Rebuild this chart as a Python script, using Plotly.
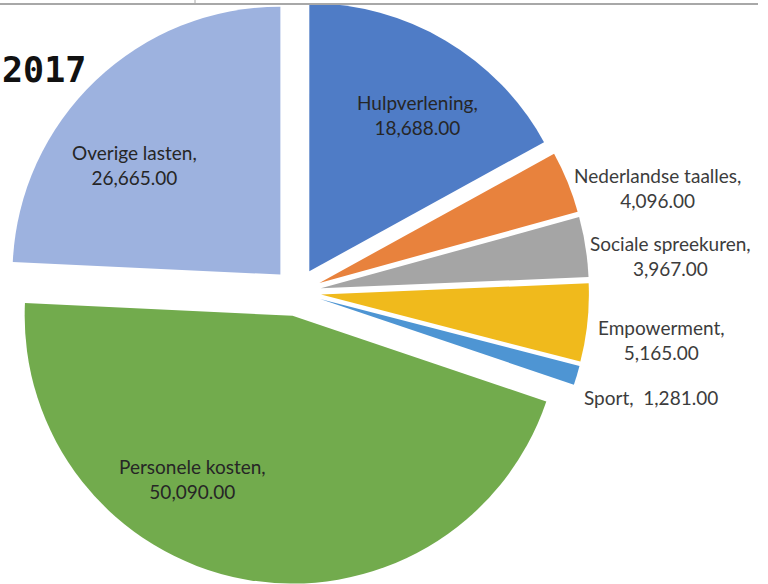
import plotly.graph_objects as go

# uitgaven 2017
labels = ["Hulpverlening", "Nederlandse taalles", "Sociale spreekuren",
          "Empowerment", "Sport", "Personele kosten", "Overige lasten"]
values = [18688.00, 4096.00, 3967.00, 5165.00, 1281.00, 50090.00, 26665.00]
colours = ["#4f7cc6", "#e8823d", "#a5a5a5", "#f0ba1c", "#4e95d3", "#72ab4d", "#9db2df"]
title_text = "2017"

W, H = 768, 584

fig = go.Figure()
fig.add_trace(go.Pie(
    labels=labels, values=values,
    sort=False, direction="clockwise", rotation=0,
    pull=[0.09] * len(labels),
    marker=dict(colors=colours, line=dict(width=0)),
    textinfo="none",
    showlegend=False,
    hoverinfo="label+value",
    automargin=False,
    domain=dict(x=[0.0065, 0.767], y=[0, 1]),
))

# labels zoals in Excel geplaatst (pixelposities van het midden)
label_xy = [(417, 115), (657, 188), (670, 256), (661, 340), (651, 398),
            (192, 479), (134, 165)]
for i, (px, py) in enumerate(label_xy):
    if labels[i] == "Sport":
        txt = f"{labels[i]},\u00a0 {values[i]:,.2f}"
    else:
        txt = f"{labels[i]},<br>{values[i]:,.2f}"
    inside = labels[i] in ("Hulpverlening", "Personele kosten", "Overige lasten")
    fig.add_annotation(text=txt, xref="paper", yref="paper",
                       x=px / W, y=1 - py / H, xanchor="center", yanchor="middle",
                       showarrow=False, align="center",
                       font=dict(family="Lato", size=19,
                                 color="#262626" if inside else "#3c3c3c"))

fig.add_annotation(text=f"<b>{title_text}</b>", xref="paper", yref="paper",
                   x=0, y=1 - 70 / H, xanchor="left", yanchor="middle",
                   showarrow=False,
                   font=dict(family="DejaVu Sans Mono", size=35, color="#111111"))

# rand van de tabel erboven
fig.add_shape(type="line", xref="paper", yref="paper",
              x0=0, x1=758 / W, y0=1 - 4 / H, y1=1 - 4 / H,
              line=dict(color="#a8a8a8", width=2))
fig.add_shape(type="line", xref="paper", yref="paper",
              x0=195 / W, x1=195 / W, y0=1, y1=1 - 5 / H,
              line=dict(color="#a8a8a8", width=1))

fig.update_layout(width=W, height=H,
                  margin=dict(l=0, r=0, t=0, b=0, pad=0, autoexpand=False),
                  paper_bgcolor="white", plot_bgcolor="white")

fig.write_html("out.html", config={"displayModeBar": False},
               post_script="document.body.style.margin='0';")
